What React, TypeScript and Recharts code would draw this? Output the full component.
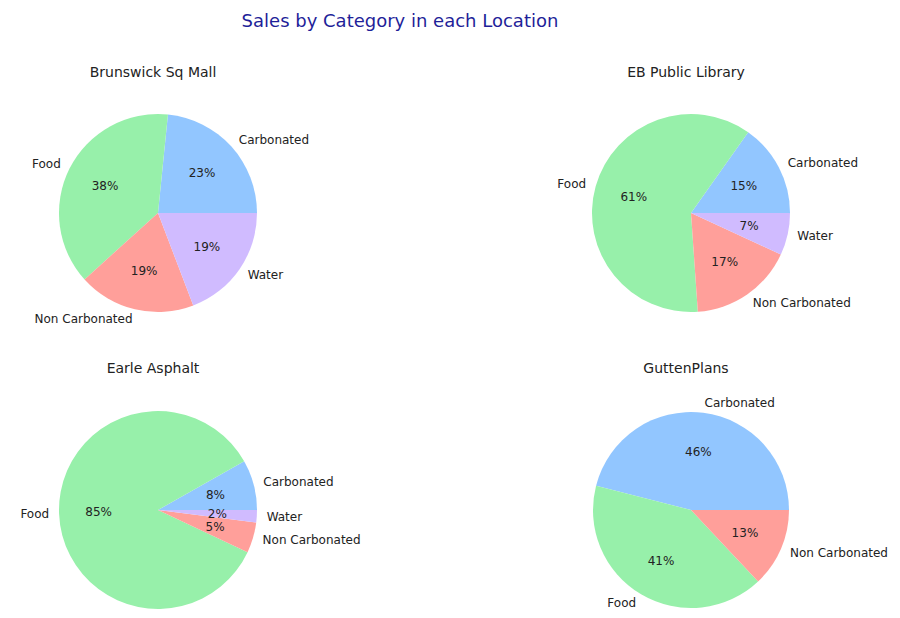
import React from "react";
import { PieChart, Pie, Cell } from "recharts";

const categories = ["Carbonated", "Food", "Non Carbonated", "Water"];
const colors = ["#92c6ff", "#97f0aa", "#ff9f9a", "#d0bbff"];
const brunswick = [23.4, 38.3, 19.1, 19.2];
const ebLibrary = [15.2, 60.9, 17.0, 6.9];
const earle = [8.2, 84.8, 5.0, 2.0];
const gutten = [46.0, 41.0, 13.0];
const titles = ["Brunswick Sq Mall", "EB Public Library", "Earle Asphalt", "GuttenPlans"];

const RAD = Math.PI / 180;
const label = (p: any) => {
  const { cx, cy, midAngle, outerRadius, percent, name } = p;
  const c = Math.cos(-midAngle * RAD), s = Math.sin(-midAngle * RAD);
  const ox = cx + outerRadius * 1.1 * c, oy = cy + outerRadius * 1.1 * s;
  const ix = cx + outerRadius * 0.6 * c, iy = cy + outerRadius * 0.6 * s;
  return (
    <g>
      <text x={ox} y={oy} textAnchor={c >= 0 ? "start" : "end"} dominantBaseline="central" fontSize={12} fill="#222" fontFamily="DejaVu Sans">{name}</text>
      <text x={ix} y={iy} textAnchor="middle" dominantBaseline="central" fontSize={12} fill="#222" fontFamily="DejaVu Sans">{Math.round(percent * 100)}%</text>
    </g>
  );
};

const mk = (vals: number[]) => vals.map((v, i) => ({ name: categories[i], value: v, idx: i }));
const pies = [
  { data: mk(brunswick), cx: 153, cy: 208, r: 99 },
  { data: mk(ebLibrary), cx: 686, cy: 208, r: 99 },
  { data: mk(earle), cx: 153, cy: 505, r: 99 },
  { data: mk(gutten), cx: 686, cy: 505, r: 98 },
];
const titlePos = [[153, 73], [686, 73], [153, 369], [686, 369]];

export default function App() {
  return (
    <div style={{ position: "absolute", left: 0, top: 0, width: 900, height: 618, background: "#fff" }}>
      <div style={{ position: "absolute", left: 0, width: 800, top: 10, textAlign: "center", fontFamily: "DejaVu Sans", fontSize: 18, color: "#1f1f99" }}>
        Sales by Category in each Location
      </div>
      {titles.map((t, i) => (
        <div key={t} style={{ position: "absolute", left: titlePos[i][0] - 150, width: 300, top: titlePos[i][1] - 9, textAlign: "center", fontFamily: "DejaVu Sans", fontSize: 14, color: "#222" }}>{t}</div>
      ))}
      <PieChart width={900} height={618} style={{ position: "absolute", left: 0, top: 0 }}>
        {pies.map((p, i) => (
          <Pie key={i} data={p.data} dataKey="value" nameKey="name" cx={p.cx} cy={p.cy} outerRadius={p.r}
            startAngle={0} endAngle={360} stroke="none" label={label} labelLine={false} isAnimationActive={false}>
            {p.data.map((d) => <Cell key={d.name} fill={colors[d.idx]} />)}
          </Pie>
        ))}
      </PieChart>
    </div>
  );
}
